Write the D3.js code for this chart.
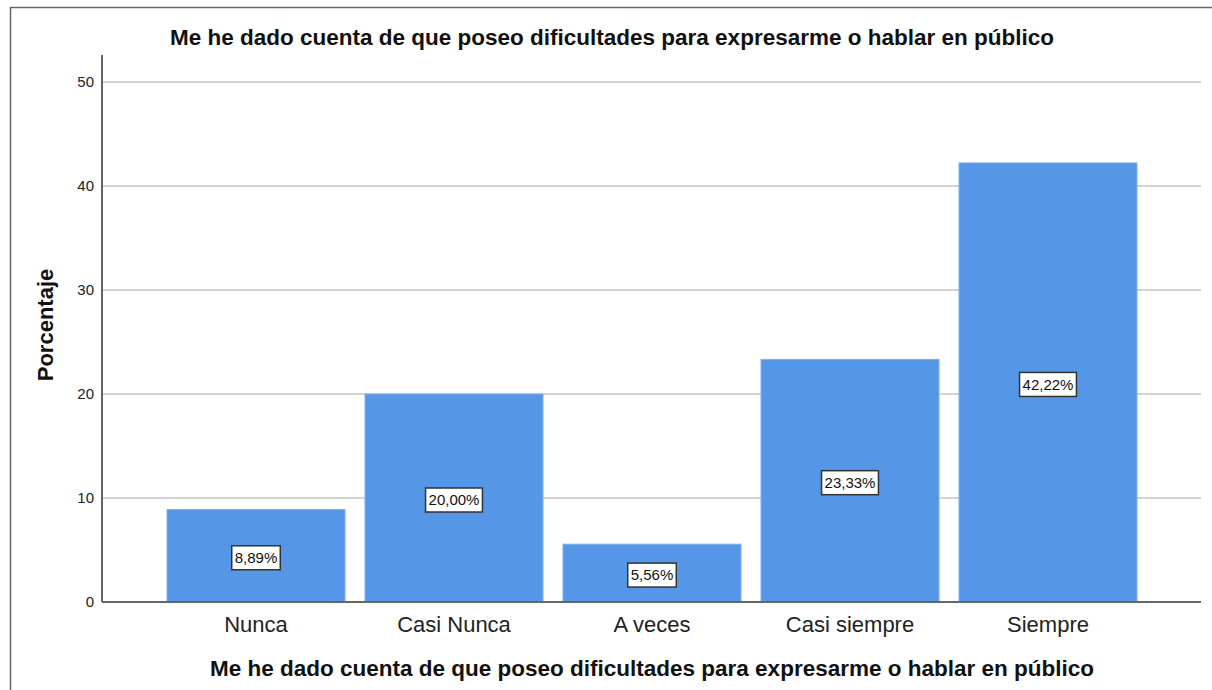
<!DOCTYPE html>
<html>
<head>
<meta charset="utf-8">
<script src="https://cdn.jsdelivr.net/npm/d3@7"></script>
<style>
  body { margin: 0; background: #fff; }
  svg { display: block; font-family: "Liberation Sans", Arial, sans-serif; }
</style>
</head>
<body>
<svg id="chart" width="1212" height="690"></svg>
<script>
const categories = ["Nunca", "Casi Nunca", "A veces", "Casi siempre", "Siempre"];
const values = [8.89, 20.00, 5.56, 23.33, 42.22];
const labels = ["8,89%", "20,00%", "5,56%", "23,33%", "42,22%"];
const yTicks = [0, 10, 20, 30, 40, 50];
const title = "Me he dado cuenta de que poseo dificultades para expresarme o hablar en público";

const svg = d3.select("#chart");

// frame (left and top edges only visible)
svg.append("line").attr("x1", 10.5).attr("x2", 10.5).attr("y1", 7).attr("y2", 690)
  .attr("stroke", "#666").attr("stroke-width", 1.5);
svg.append("line").attr("x1", 10).attr("x2", 1212).attr("y1", 7.5).attr("y2", 7.5)
  .attr("stroke", "#666").attr("stroke-width", 1.5);

const left = 102, right = 1201, bottom = 602;

let y = d3.scaleLinear().domain([0, 50]).range([bottom, 82]);
let x = d3.scaleBand().domain(categories).range([157, 1147])
  .paddingInner(0.101).paddingOuter(0.0505);

// gridlines
svg.append("g").selectAll("line").data(yTicks.filter(d => d > 0)).join("line")
  .attr("x1", left).attr("x2", right)
  .attr("y1", d => y(d)).attr("y2", d => y(d))
  .attr("stroke", "#d2d2d2").attr("stroke-width", 2);

// bars
svg.append("g").selectAll("rect").data(values).join("rect")
  .attr("x", (d, i) => x(categories[i]))
  .attr("width", x.bandwidth())
  .attr("y", d => y(d))
  .attr("height", d => bottom - y(d))
  .attr("fill", "#5596e6")
  .attr("stroke", "#7eb0ee").attr("stroke-width", 1);

// y axis
let yAxis = svg.append("g").attr("transform", `translate(${left},0)`)
  .call(d3.axisLeft(y).tickValues(yTicks).tickSize(0).tickPadding(8));
yAxis.select(".domain").remove();
yAxis.selectAll("text").attr("font-size", 15).attr("fill", "#222")
  .attr("font-family", "Liberation Sans, Arial, sans-serif");
svg.append("line").attr("x1", left).attr("x2", left).attr("y1", 55).attr("y2", bottom)
  .attr("stroke", "#666").attr("stroke-width", 2);

// x axis
let xAxis = svg.append("g").attr("transform", `translate(0,${bottom})`)
  .call(d3.axisBottom(x).tickSize(0).tickPadding(14));
xAxis.select(".domain").remove();
xAxis.selectAll("text").attr("font-size", 22).attr("fill", "#222")
  .attr("font-family", "Liberation Sans, Arial, sans-serif");
svg.append("line").attr("x1", left).attr("x2", right).attr("y1", bottom).attr("y2", bottom)
  .attr("stroke", "#666").attr("stroke-width", 2);

// value labels
let lab = svg.append("g").selectAll("g").data(values).join("g")
  .attr("transform", (d, i) => `translate(${x(categories[i]) + x.bandwidth() / 2},${(y(d) + bottom) / 2 + 2})`);
lab.append("text")
  .attr("text-anchor", "middle").attr("dy", "0.35em")
  .attr("font-size", 15).attr("fill", "#111")
  .text((d, i) => labels[i]);
lab.each(function () {
  const g = d3.select(this);
  const bb = g.select("text").node().getBBox();
  g.insert("rect", "text")
    .attr("x", bb.x - 3).attr("y", -12).attr("width", bb.width + 6).attr("height", 24)
    .attr("fill", "#fff").attr("stroke", "#333").attr("stroke-width", 1.5);
});

// titles
svg.append("text").attr("x", 612).attr("y", 45).attr("text-anchor", "middle")
  .attr("font-size", 22.5).attr("font-weight", "bold").attr("fill", "#111").text(title);
svg.append("text").attr("x", 652).attr("y", 676).attr("text-anchor", "middle")
  .attr("font-size", 22.5).attr("font-weight", "bold").attr("fill", "#111").text(title);
svg.append("text").attr("transform", "translate(53,325) rotate(-90)").attr("text-anchor", "middle")
  .attr("font-size", 22).attr("font-weight", "bold").attr("fill", "#111").text("Porcentaje");
</script>
</body>
</html>
